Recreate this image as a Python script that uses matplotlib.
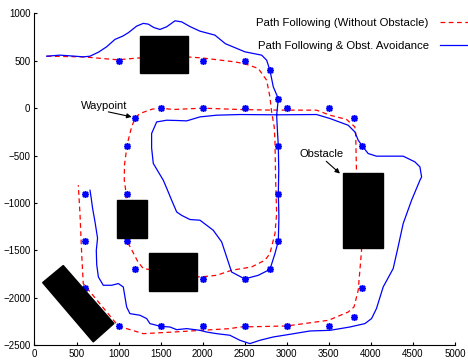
import matplotlib
matplotlib.use("Agg")
import matplotlib.pyplot as plt
from matplotlib.patches import Rectangle, Polygon

plt.rcParams['font.family'] = ['Liberation Sans', 'DejaVu Sans']

# Path followed without obstacles (dashed red)
free_x = [145, 580, 989, 1250, 1817, 1991, 2364, 2491, 2661, 2761, 2800, 2820, 2851, 2860,
          2868, 2880, 2860, 2800, 2741, 2582, 2344, 2166, 1968, 1294, 1230, 1160, 1100, 1085,
          1090, 1068, 1070, 1100, 1115, 1155, 1200, 1254, 1400, 1500, 1650, 2000, 2443, 2800,
          3355, 3514, 3712, 3810, 3820, 3830, 3870, 3890, 3850, 3800, 3731, 3498, 2999, 2443,
          2325, 1650, 1294, 1096, 1000, 580, 561, 541, 521]
free_y = [548, 541, 510, 530, 540, 530, 490, 471, 419, 295, 119, -39, -197, -338,
          -760, -1111, -1322, -1533, -1603, -1674, -1709, -1762, -1780, -1691, -1620, -1500, -1400, -1150,
          -900, -759, -600, -400, -338, -197, -100, -56, -10, 0, -14, 0, -14, -20,
          -21, -74, -119, -197, -267, -689, -1200, -1498, -1920, -2096, -2149, -2236, -2296, -2307,
          -2324, -2360, -2377, -2324, -2300, -1849, -1533, -1111, -812]

# Path with obstacle avoidance (solid blue)
avoid_x = [145, 303, 480, 580, 660, 760, 858, 957, 1050, 1115, 1215, 1294, 1353, 1420, 1492,
           1572, 1671, 1750, 1850, 1968, 2146, 2270, 2503, 2702, 2761, 2800, 2840, 2900, 2880,
           2890, 2900, 2905, 2900, 2907, 2900, 2860, 2800, 2661, 2500, 2344, 2285, 2226, 2126,
           1968, 1849, 1750, 1691, 1631, 1580, 1532, 1413, 1393, 1393, 1453, 1572, 1700, 1810,
           1968, 2166, 2443, 2880, 3355, 3514, 3731, 3810, 3850, 3900, 3968, 4067, 4385, 4524,
           4584, 4604, 4584, 4485, 4385, 4320, 4266, 4147, 4067, 4009, 3930, 3751, 3514, 3276,
           3038, 2840, 2681, 2562, 2443, 2324, 2166, 2047, 1968, 1810, 1691, 1611, 1500, 1373,
           1334, 1254, 1135, 1096, 1076, 1056, 997, 918, 818, 760, 740, 735, 750, 720, 690,
           675, 660]
avoid_y = [548, 559, 548, 541, 548, 590, 647, 725, 760, 795, 865, 894, 886, 850, 830,
           858, 921, 910, 860, 812, 770, 680, 594, 559, 506, 400, 225, 100, -74,
           -250, -400, -650, -900, -1147, -1400, -1533, -1700, -1762, -1800, -1727, -1568, -1410, -1287,
           -1181, -1174, -1130, -1094, -970, -860, -760, -583, -420, -267, -145, -127, -130, -134,
           -92, -74, -67, -70, -67, -109, -180, -250, -338, -400, -478, -506, -506, -566,
           -619, -725, -760, -970, -1216, -1480, -1691, -1885, -2113, -2218, -2271, -2307, -2342, -2349,
           -2384, -2412, -2447, -2482, -2447, -2394, -2377, -2360, -2342, -2324, -2335, -2307, -2300, -2271,
           -2218, -2183, -2166, -2096, -1990, -1885, -1849, -1867, -1867, -1780, -1650, -1500, -1370, -1200, -1050,
           -950, -865]

# Waypoints
wp_x = [1000, 2000, 2500, 2800, 2900, 2900, 2900, 2900, 2800, 2500, 2000, 1200, 1100, 1100,
        1100, 1200, 1500, 2000, 2500, 3000, 3500, 3800, 3900, 3900, 3800, 3500, 3000, 2500,
        2000, 1500, 1000, 600, 600, 600]
wp_y = [500, 500, 500, 400, 100, -400, -900, -1400, -1700, -1800, -1800, -1700, -1400, -900,
        -400, -100, 0, 0, 0, 0, 0, -100, -400, -1900, -2200, -2300, -2300, -2300,
        -2300, -2300, -2300, -1900, -1400, -900]

# Rectangular obstacles: lower-left corner, width, height
obs_x = [1250, 985, 1360, 3665]
obs_y = [370, -1370, -1930, -1477]
obs_w = [570, 355, 575, 485]
obs_h = [390, 400, 405, 792]

# Tilted obstacle corners
tilt_x = [97, 342, 945, 699]
tilt_y = [-1839, -1659, -2270, -2464]

fig = plt.figure(figsize=(4.68, 3.6), dpi=100)
ax = fig.add_axes([0.0737, 0.0408, 0.8983, 0.9222])

ax.plot(free_x, free_y, color='red', lw=0.9, dashes=(3.8, 2.8),
        label='Path Following (Without Obstacle)', zorder=2)
ax.plot(avoid_x, avoid_y, color='blue', lw=0.9,
        label='Path Following & Obst. Avoidance', zorder=2)
ax.plot(wp_x, wp_y, linestyle='none', marker=(8, 2, 0), markersize=5,
        markeredgewidth=1.1, color='blue', zorder=3)

for x, y, w, h in zip(obs_x, obs_y, obs_w, obs_h):
    ax.add_patch(Rectangle((x, y), w, h, facecolor='black', edgecolor='black', zorder=4))
ax.add_patch(Polygon(list(zip(tilt_x, tilt_y)), closed=True,
                     facecolor='black', edgecolor='black', zorder=4))

ax.text(826, 21, 'Waypoint', fontsize=8, ha='center', va='center')
ax.annotate('', xy=(1156, -92), xytext=(878, -39),
            arrowprops=dict(arrowstyle='-|>', color='black', lw=0.8,
                            mutation_scale=7, shrinkA=0, shrinkB=0))
ax.text(3420, -478, 'Obstacle', fontsize=8, ha='center', va='center')
ax.annotate('', xy=(3633, -689), xytext=(3470, -560),
            arrowprops=dict(arrowstyle='-|>', color='black', lw=0.8,
                            mutation_scale=7, shrinkA=0, shrinkB=0))

ax.set_xlim(0, 5000)
ax.set_ylim(-2500, 1000)
ax.set_xticks(range(0, 5001, 500))
ax.set_yticks(range(-2500, 1001, 500))
ax.spines['top'].set_visible(False)
ax.spines['right'].set_visible(False)
ax.tick_params(direction='in', length=2.5, width=0.8, labelsize=7, pad=3)

ax.legend(loc='upper right', bbox_to_anchor=(1.028, 0.962),
          bbox_transform=fig.transFigure, frameon=False, markerfirst=False,
          fontsize=8.2, handlelength=3.2, handletextpad=1.0, labelspacing=1.15,
          borderaxespad=0)

fig.savefig('out.png', dpi=100)
